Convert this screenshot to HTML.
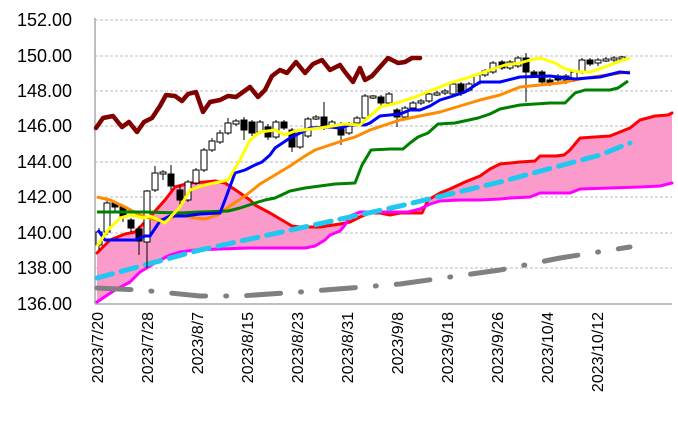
<!DOCTYPE html>
<html><head><meta charset="utf-8"><style>
body{margin:0;background:#fff}
svg{display:block;font-family:"Liberation Sans",sans-serif}
</style></head><body>
<svg width="678" height="436" viewBox="0 0 678 436" xmlns="http://www.w3.org/2000/svg">
<g stroke="#bbb" stroke-dasharray="3,2" stroke-width="1">
<line x1="95" y1="20" x2="672" y2="20"/><line x1="95" y1="56" x2="672" y2="56"/>
<line x1="95" y1="91" x2="672" y2="91"/><line x1="95" y1="126" x2="672" y2="126"/>
<line x1="95" y1="162" x2="672" y2="162"/><line x1="95" y1="197" x2="672" y2="197"/>
<line x1="95" y1="233" x2="672" y2="233"/><line x1="95" y1="268" x2="672" y2="268"/>
</g>
<line x1="95" y1="18" x2="95" y2="304" stroke="#aaa" stroke-width="1.5"/>
<line x1="95" y1="304" x2="672" y2="304" stroke="#aaa" stroke-width="1.5"/>
<g font-size="18" text-anchor="end" fill="#000">
<text x="72" y="26">152.00</text><text x="72" y="62">150.00</text><text x="72" y="97">148.00</text>
<text x="72" y="132">146.00</text><text x="72" y="168">144.00</text><text x="72" y="203">142.00</text>
<text x="72" y="239">140.00</text><text x="72" y="274">138.00</text><text x="72" y="310">136.00</text>
</g>
<g font-size="16" text-anchor="end" fill="#000">
<text transform="translate(103,312) rotate(-90)">2023/7/20</text>
<text transform="translate(153,312) rotate(-90)">2023/7/28</text>
<text transform="translate(203,312) rotate(-90)">2023/8/7</text>
<text transform="translate(253,312) rotate(-90)">2023/8/15</text>
<text transform="translate(303,312) rotate(-90)">2023/8/23</text>
<text transform="translate(353,312) rotate(-90)">2023/8/31</text>
<text transform="translate(403,312) rotate(-90)">2023/9/8</text>
<text transform="translate(453,312) rotate(-90)">2023/9/18</text>
<text transform="translate(503,312) rotate(-90)">2023/9/26</text>
<text transform="translate(553,312) rotate(-90)">2023/10/4</text>
<text transform="translate(603,312) rotate(-90)">2023/10/12</text>
</g>
<polygon fill="#fb9bcb" points="97,253 110,240 125,234 135,232 148,219 165,200 175,187 190,183 205,182 215,181 225,183 240,193 250,200 255,205 270,213 292,226 300,227 320,227 340,224 350,222 360,217 370,213 380,213 390,215 400,213 410,213 422,213 428,200 440,193 450,189 465,182 480,176 490,169 500,164 520,162 535,161 540,156 556,156 564,155 570,150 580,138 610,136 620,132 630,128 640,120 655,116 668,115 672,113 672,183 660,186 640,187 610,188 580,189 570,193 540,193 530,197 510,198 500,199 480,200 460,200 440,201 430,204 420,209 408,212 380,212 360,212 350,216 345,225 340,231 330,235 325,240 315,246 305,248 290,248 250,248 220,249 195,250 180,252 170,255 155,263 140,272 130,282 115,290 97,302"/>
<g fill="none" stroke-linejoin="round" stroke-linecap="round">
<polyline stroke="#ff0000" stroke-width="3" points="97,253 110,240 125,234 135,232 148,219 165,200 175,187 190,183 205,182 215,181 225,183 240,193 250,200 255,205 270,213 292,226 300,227 320,227 340,224 350,222 360,217 370,213 380,213 390,215 400,213 410,213 422,213 428,200 440,193 450,189 465,182 480,176 490,169 500,164 520,162 535,161 540,156 556,156 564,155 570,150 580,138 610,136 620,132 630,128 640,120 655,116 668,115 672,113"/>
<polyline stroke="#ff00ff" stroke-width="3" points="97,302 115,290 130,282 140,272 155,263 170,255 180,252 195,250 220,249 250,248 290,248 305,248 315,246 325,240 330,235 340,231 345,225 350,216 360,212 380,212 408,212 420,209 430,204 440,201 460,200 480,200 500,199 510,198 530,197 540,193 570,193 580,189 610,188 640,187 660,186 672,183"/>
<polyline stroke="#808080" stroke-width="5" stroke-dasharray="34,20,1,20" points="97,288 140,290 200,296 240,296 300,292 400,284 500,270 560,258 630,247"/>
<polyline stroke="#22c7f0" stroke-width="5" stroke-dasharray="16,9" points="97,278 200,250 300,228 400,206 500,182 600,155 630,143"/>
<polyline stroke="#800000" stroke-width="4.5" points="96,128 103,118 113,116 122,127 129,122 137,132 144,122 152,118 160,106 166,95 175,96 182,101 188,94 196,92 203,112 210,102 220,100 228,96 236,97 243,92 250,87 258,97 265,90 272,76 280,70 287,73 296,62 305,73 313,64 322,60 330,70 340,65 345,72 353,82 360,68 365,80 372,76 380,67 388,58 398,63 405,62 412,58 420,58"/>
</g>
<path stroke="#000" stroke-width="1" fill="none" d="M99 228V250M107 200V235M115 201V212M123 205V222M131 218V232M139 226V255M147 190V268M155 166V192M163 170V180M171 165V190M180 185V205M188 180V202M196 168V185M204 148V172M212 138V152M220 130V144M228 118V135M236 119V126M244 117V140M252 120V136M260 120V134M268 124V140M276 120V139M284 120V130M292 128V152M300 131V149M308 117V138M316 115V120M324 102V130M332 120V128M341 122V145M349 122V135M357 116V125M365 94V120M373 95V99M381 95V106M389 92V105M397 108V127M405 106V119M413 101V110M421 99V105M429 92V103M437 91V96M445 89V95M453 82V96M461 82V96M469 82V92M477 73V86M485 69V77M493 61V74M502 60V70M510 60V70M518 56V68M526 53V102M534 70V78M542 70V86M550 78V86M558 74V82M566 74V84M574 70V82M582 58V74M590 58V66M598 58V66M606 57V62M614 56V62M622 56V60"/>
<g fill="#fff" stroke="#000" stroke-width="1">
<rect x="96" y="232" width="6" height="13"/><rect x="104" y="203" width="6" height="29"/><rect x="144" y="191" width="6" height="51"/><rect x="152" y="173" width="6" height="17"/><rect x="160" y="172" width="6" height="2"/><rect x="185" y="182" width="6" height="18"/><rect x="193" y="170" width="6" height="13"/><rect x="201" y="150" width="6" height="20"/><rect x="209" y="141" width="6" height="9"/><rect x="217" y="133" width="6" height="9"/><rect x="225" y="123" width="6" height="10"/><rect x="233" y="121" width="6" height="3"/><rect x="257" y="122" width="6" height="10"/><rect x="273" y="122" width="6" height="15"/><rect x="297" y="133" width="6" height="14"/><rect x="305" y="119" width="6" height="17"/><rect x="313" y="117" width="6" height="2"/><rect x="329" y="122" width="6" height="4"/><rect x="346" y="124" width="6" height="9"/><rect x="354" y="118" width="6" height="5"/><rect x="362" y="96" width="6" height="22"/><rect x="370" y="96" width="6" height="2"/><rect x="386" y="94" width="6" height="9"/><rect x="402" y="108" width="6" height="9"/><rect x="410" y="103" width="6" height="5"/><rect x="418" y="101" width="6" height="2"/><rect x="426" y="94" width="6" height="7"/><rect x="434" y="93" width="6" height="2"/><rect x="442" y="91" width="6" height="2"/><rect x="450" y="84" width="6" height="10"/><rect x="466" y="84" width="6" height="6"/><rect x="474" y="75" width="6" height="9"/><rect x="482" y="71" width="6" height="4"/><rect x="490" y="63" width="6" height="9"/><rect x="507" y="62" width="6" height="6"/><rect x="515" y="58" width="6" height="8"/><rect x="563" y="76" width="6" height="4"/><rect x="571" y="72" width="6" height="8"/><rect x="579" y="60" width="6" height="12"/><rect x="595" y="60" width="6" height="3"/><rect x="603" y="59" width="6" height="2"/><rect x="611" y="58" width="6" height="2"/><rect x="619" y="57" width="6" height="2"/>
</g>
<g fill="#000" stroke="#000" stroke-width="1">
<rect x="112" y="203" width="6" height="4"/><rect x="120" y="207" width="6" height="10"/><rect x="128" y="220" width="6" height="8"/><rect x="136" y="229" width="6" height="12"/><rect x="168" y="174" width="6" height="12"/><rect x="177" y="190" width="6" height="10"/><rect x="241" y="120" width="6" height="10"/><rect x="249" y="122" width="6" height="11"/><rect x="265" y="127" width="6" height="10"/><rect x="281" y="122" width="6" height="6"/><rect x="289" y="130" width="6" height="17"/><rect x="321" y="117" width="6" height="9"/><rect x="338" y="124" width="6" height="11"/><rect x="378" y="97" width="6" height="6"/><rect x="394" y="110" width="6" height="7"/><rect x="458" y="84" width="6" height="8"/><rect x="499" y="62" width="6" height="6"/><rect x="523" y="58" width="6" height="14"/><rect x="531" y="72" width="6" height="3"/><rect x="539" y="72" width="6" height="10"/><rect x="547" y="80" width="6" height="3"/><rect x="555" y="76" width="6" height="4"/><rect x="587" y="60" width="6" height="4"/>
</g>
<g fill="none" stroke-linejoin="round" stroke-width="3">
<polyline stroke="#ff8c00" points="97,197 110,200 125,207 140,215 155,220 170,218 180,215 195,218 205,219 218,215 230,206 245,196 260,184 275,175 290,166 305,156 315,150 330,145 345,140 355,137 370,130 385,125 400,120 420,116 440,112 460,106 480,100 500,95 520,87 540,85 560,83 580,79 600,76 620,73 630,72"/>
<polyline stroke="#008000" points="97,212 145,212 180,213 200,212 228,211 240,208 255,203 265,200 275,198 290,191 305,188 320,186 335,184 355,183 362,165 371,150 390,149 403,149 410,143 418,137 428,133 438,124 455,123 478,118 490,114 500,109 510,107 520,105 535,104 550,103 565,103 575,93 585,90 610,90 618,88 628,81"/>
<polyline stroke="#0000ff" points="98,230 105,240 135,240 145,236 150,236 160,221 170,216 185,216 200,214 220,213 225,200 235,173 245,170 255,165 262,162 270,155 275,148 290,138 300,133 310,128 330,127 340,128 350,125 365,125 370,123 380,116 400,114 410,110 420,110 430,106 440,100 450,97 465,92 480,82 500,82 520,77 550,76 575,79 600,77 620,72 630,73"/>
<polyline stroke="#ffff00" points="97,246 108,230 120,218 131,215 143,218 150,216 165,223 180,207 190,190 205,185 228,180 240,160 250,140 260,132 275,130 285,135 295,131 320,128 345,124 360,125 380,107 397,103 415,97 425,93 440,87 450,83 470,77 490,70 505,65 520,63 530,60 540,58 555,63 565,69 580,72 590,72 605,67 620,61 630,58"/>
</g>
</svg>
</body></html>
